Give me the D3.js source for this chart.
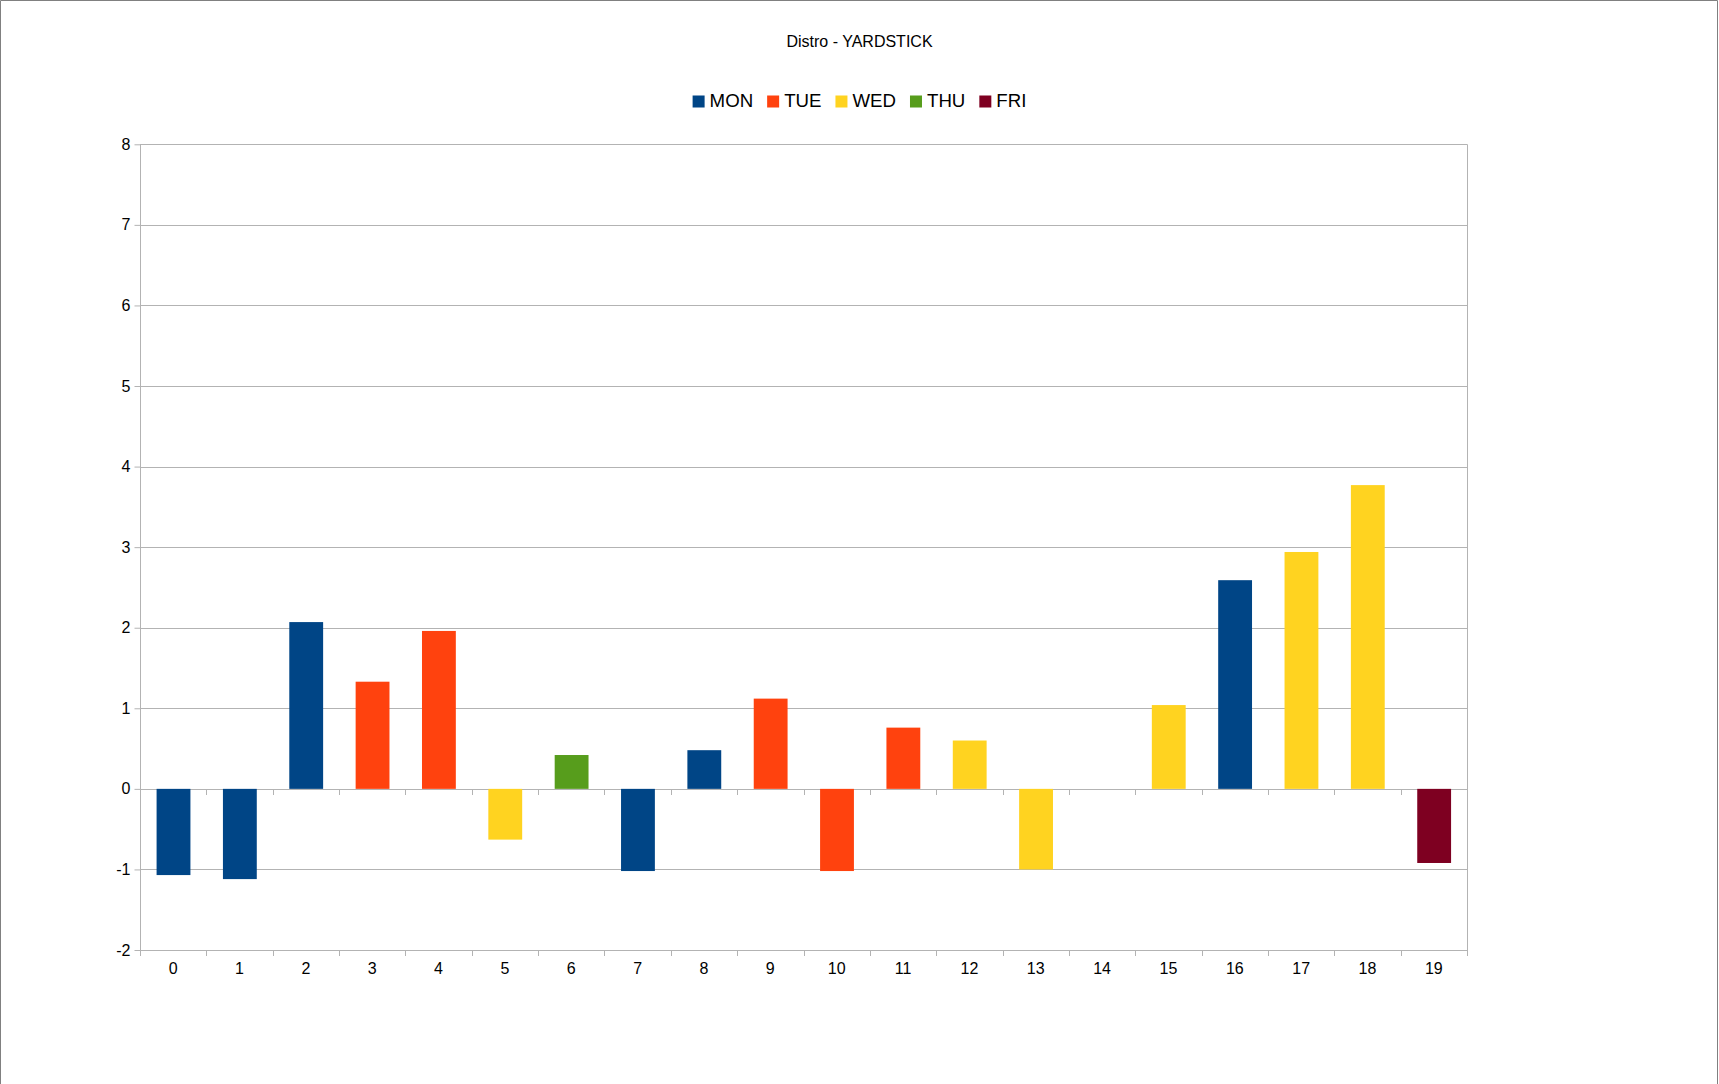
<!DOCTYPE html>
<html>
<head>
<meta charset="utf-8">
<script src="https://cdn.jsdelivr.net/npm/d3@7"></script>
<style>
  html, body { margin: 0; padding: 0; background: #fff; }
  svg { display: block; font-family: "Liberation Sans", Arial, sans-serif; }
</style>
</head>
<body>
<div id="main"></div>
<script>
// chart data
var categories = d3.range(0, 20).map(String);
var values = [-1.07, -1.12, 2.07, 1.33, 1.96, -0.63, 0.42, -1.02, 0.48, 1.12,
              -1.02, 0.76, 0.60, -1.00, null, 1.04, 2.59, 2.94, 3.77, -0.92];
var barDays = ["MON", "MON", "MON", "TUE", "TUE", "WED", "THU", "MON", "MON", "TUE",
               "TUE", "TUE", "WED", "WED", null, "WED", "MON", "WED", "WED", "FRI"];
var days = ["MON", "TUE", "WED", "THU", "FRI"];
var dayColors = ["#004586", "#ff420e", "#ffd320", "#579d1c", "#7e0021"];
var yTicks = d3.range(-2, 9);
var title = "Distro - YARDSTICK";

var ctx = {
    w: 1719,
    h: 1084,
    left: 140,
    right: 1467,
    top: 144.3,
    bottom: 950,
    axisColor: "#b3b3b3",
    font: "Liberation Sans, Arial, sans-serif"
};

var svg = d3.select("#main").append("svg")
    .attr("width", ctx.w)
    .attr("height", ctx.h);

// page frame (left, top, right)
svg.append("path")
   .attr("d", "M0.5," + ctx.h + "V0.5H1717.5V" + ctx.h)
   .attr("fill", "none")
   .attr("stroke", "#808080");

var x = d3.scaleBand().domain(categories).range([ctx.left, ctx.right]).padding(0);
var y = d3.scaleLinear().domain([-2, 8]).range([ctx.bottom, ctx.top]);
var color = d3.scaleOrdinal().domain(days).range(dayColors);

// horizontal gridlines
svg.append("g").selectAll("line")
   .data(yTicks)
   .enter().append("line")
   .attr("x1", ctx.left).attr("x2", ctx.right)
   .attr("y1", function(d){ return Math.round(y(d)) + 0.5; })
   .attr("y2", function(d){ return Math.round(y(d)) + 0.5; })
   .attr("stroke", ctx.axisColor);

// plot box sides
svg.append("line")
   .attr("x1", ctx.left + 0.5).attr("x2", ctx.left + 0.5)
   .attr("y1", ctx.top).attr("y2", ctx.bottom + 5)
   .attr("stroke", ctx.axisColor);
svg.append("line")
   .attr("x1", ctx.right + 0.5).attr("x2", ctx.right + 0.5)
   .attr("y1", ctx.top).attr("y2", ctx.bottom + 5)
   .attr("stroke", ctx.axisColor);

// bars
var bw = x.bandwidth();
svg.append("g").selectAll("rect")
   .data(values.map(function(v, i){ return {v: v, cat: categories[i], day: barDays[i]}; })
               .filter(function(d){ return d.v !== null; }))
   .enter().append("rect")
   .attr("x", function(d){ return x(d.cat) + bw * 0.25; })
   .attr("width", bw * 0.51)
   .attr("y", function(d){ return y(Math.max(0, d.v)); })
   .attr("height", function(d){ return Math.abs(y(d.v) - y(0)); })
   .attr("fill", function(d){ return color(d.day); });

// category boundary ticks, on the zero line and on the bottom edge
var bounds = categories.map(function(c){ return x(c); }).concat([x.range()[1]]);
[0, -2].forEach(function(level){
    svg.append("g").selectAll("line")
       .data(bounds)
       .enter().append("line")
       .attr("x1", function(d){ return Math.round(d) + 0.5; })
       .attr("x2", function(d){ return Math.round(d) + 0.5; })
       .attr("y1", Math.round(y(level)))
       .attr("y2", Math.round(y(level)) + 6)
       .attr("stroke", ctx.axisColor);
});

// y axis labels and ticks (plain hyphen for negatives)
var yAxis = svg.append("g")
   .attr("transform", "translate(" + (ctx.left + 0.5) + ",0)")
   .call(d3.axisLeft(y).tickValues(yTicks).tickSize(6).tickPadding(4)
           .tickFormat(function(d){ return String(d); }));
yAxis.select(".domain").remove();
yAxis.selectAll(".tick line").attr("stroke", ctx.axisColor);
yAxis.selectAll("text").attr("font-size", 16).attr("fill", "#000")
     .style("font-family", ctx.font);

// x axis labels
var xAxis = svg.append("g")
   .attr("transform", "translate(0," + ctx.bottom + ")")
   .call(d3.axisBottom(x).tickSize(0).tickPadding(12.6));
xAxis.select(".domain").remove();
xAxis.selectAll("text").attr("font-size", 16).attr("fill", "#000")
     .style("font-family", ctx.font);

// title
svg.append("text")
   .attr("x", ctx.w / 2)
   .attr("y", 47.3)
   .attr("text-anchor", "middle")
   .attr("font-size", 16)
   .attr("fill", "#000")
   .text(title);

// legend, centred on the page
var legend = svg.append("g");
var items = legend.selectAll("g")
   .data(days)
   .enter().append("g");
items.append("rect")
     .attr("width", 12).attr("height", 12)
     .attr("y", 95.5)
     .attr("fill", function(d){ return color(d); });
items.append("text")
     .attr("x", 17)
     .attr("y", 107.3)
     .attr("font-size", 18.67)
     .attr("fill", "#000")
     .text(function(d){ return d; });
var gap = 14, offs = 0;
items.each(function(){
    var g = d3.select(this);
    g.attr("transform", "translate(" + offs + ",0)");
    offs += 17 + g.select("text").node().getComputedTextLength() + gap;
});
offs -= gap;
legend.attr("transform", "translate(" + (ctx.w / 2 - offs / 2) + ",0)");
</script>
</body>
</html>
